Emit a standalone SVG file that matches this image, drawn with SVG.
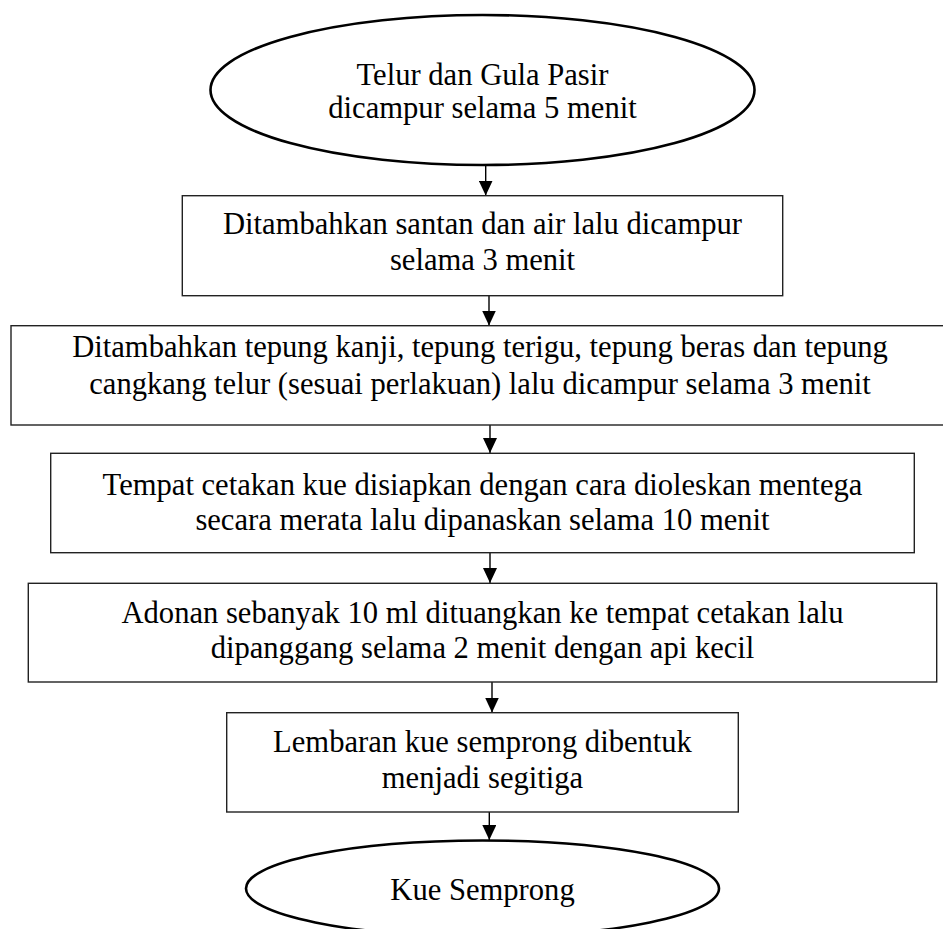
<svg xmlns="http://www.w3.org/2000/svg" width="943" height="929" viewBox="0 0 943 929">
<style>
.t{font-family:"Liberation Serif","Times New Roman",serif;font-size:30.6px;fill:#000;text-anchor:middle}
.box{fill:#fff;stroke:#222;stroke-width:1.4}
.ell{fill:#fff;stroke:#000;stroke-width:2.6}
.con{stroke:#000;stroke-width:1.4;fill:none}
</style>
<defs>
<marker id="ah" markerUnits="userSpaceOnUse" markerWidth="16" markerHeight="14" refX="15" refY="7" orient="auto">
<path d="M0,0 L15,7 L0,14 Z" fill="#000"/>
</marker>
</defs>
<rect width="943" height="929" fill="#fff"/>
<g id="connectors">
<line class="con" x1="485.7" y1="165" x2="485.7" y2="195.5" marker-end="url(#ah)"/>
<line class="con" x1="489" y1="296" x2="489" y2="325.5" marker-end="url(#ah)"/>
<line class="con" x1="490" y1="425" x2="490" y2="453" marker-end="url(#ah)"/>
<line class="con" x1="490" y1="552.7" x2="490" y2="583" marker-end="url(#ah)"/>
<line class="con" x1="492" y1="682" x2="492" y2="712.5" marker-end="url(#ah)"/>
<line class="con" x1="489.3" y1="812" x2="489.3" y2="840" marker-end="url(#ah)"/>
</g>
<g id="start">
<ellipse class="ell" cx="482.5" cy="90" rx="272" ry="75"/>
<text class="t" x="482.5" y="85">Telur dan Gula Pasir</text>
<text class="t" x="482.5" y="118">dicampur selama 5 menit</text>
</g>
<g id="step1">
<rect class="box" x="182.3" y="195.7" width="600.4" height="100"/>
<text class="t" x="482.5" y="234">Ditambahkan santan dan air lalu dicampur</text>
<text class="t" x="482.5" y="270">selama 3 menit</text>
</g>
<g id="step2">
<rect class="box" x="11" y="325.7" width="943" height="99.3"/>
<text class="t" x="480" y="357">Ditambahkan tepung kanji, tepung terigu, tepung beras dan tepung</text>
<text class="t" x="480" y="394">cangkang telur (sesuai perlakuan) lalu dicampur selama 3 menit</text>
</g>
<g id="step3">
<rect class="box" x="50.7" y="453.3" width="863.6" height="99.4"/>
<text class="t" x="482.5" y="495">Tempat cetakan kue disiapkan dengan cara dioleskan mentega</text>
<text class="t" x="482.5" y="530">secara merata lalu dipanaskan selama 10 menit</text>
</g>
<g id="step4">
<rect class="box" x="28.3" y="583.3" width="908.4" height="98.7"/>
<text class="t" x="482.5" y="623">Adonan sebanyak 10 ml dituangkan ke tempat cetakan lalu</text>
<text class="t" x="482.5" y="658">dipanggang selama 2 menit dengan api kecil</text>
</g>
<g id="step5">
<rect class="box" x="226.7" y="712.7" width="511.6" height="99.3"/>
<text class="t" x="482.5" y="752">Lembaran kue semprong dibentuk</text>
<text class="t" x="482.5" y="788">menjadi segitiga</text>
</g>
<g id="end">
<ellipse class="ell" cx="482.5" cy="888.5" rx="236.5" ry="48"/>
<text class="t" x="482.5" y="900">Kue Semprong</text>
</g>
</svg>
